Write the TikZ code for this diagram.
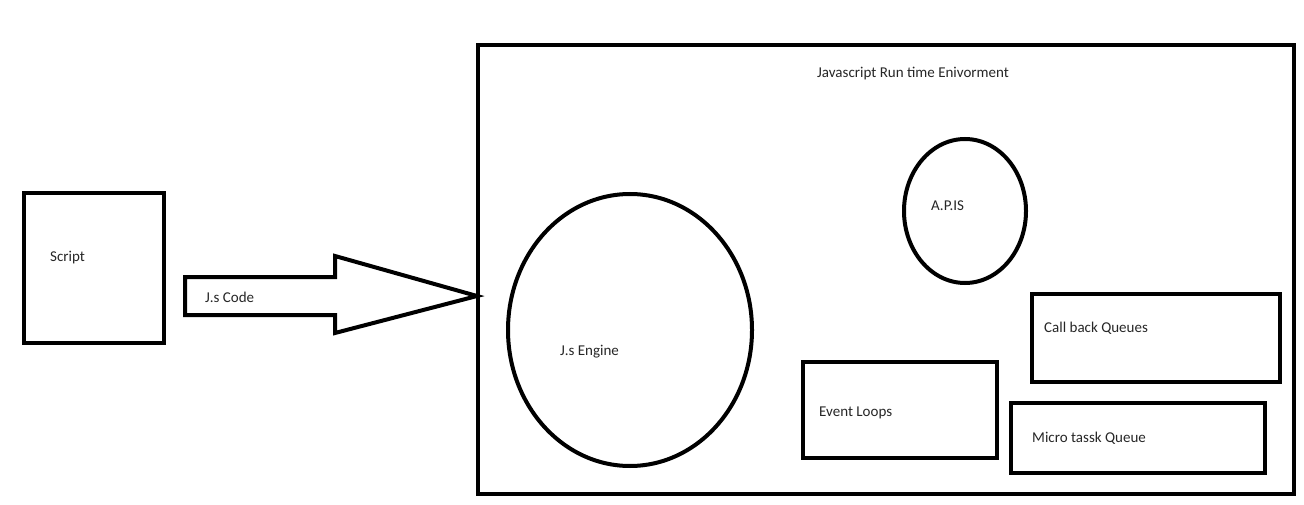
\documentclass[tikz,border=0pt]{standalone}
\usepackage{fontspec}
\setmainfont{Carlito}
\begin{document}
\begin{tikzpicture}[x=1pt,y=-1pt,
  thick box/.style={draw=black,line width=4pt},
  lbl/.style={anchor=west,inner sep=0pt,font=\fontsize{15}{17}\selectfont,text=black!85}]
\useasboundingbox (0,0) rectangle (1304,505);
% Script box
\draw[thick box] (24,193) rectangle (164,343);
\node[lbl] (script) at (50,258) {Script};
% block arrow
\draw[thick box,line join=miter] (185,277) -- (335,277) -- (335,256) -- (477,296) -- (335,333) -- (335,315) -- (185,315) -- cycle;
\node[lbl] (jscode) at (205,297) {J.s Code};
% environment box
\draw[thick box] (478,45) rectangle (1294,494);
\node[lbl] (title) at (817,74) {Javascript Run time Enivorment};
% API ellipse
\draw[thick box] (965,211) ellipse [x radius=61, y radius=72];
\node[lbl] (api) at (931,206) {A.P.IS};
% JS engine ellipse
\draw[thick box] (630,330) ellipse [x radius=122, y radius=136];
\node[lbl] (engine) at (560,352) {J.s Engine};
% Event loops
\draw[thick box] (803,362) rectangle (997,458);
\node[lbl] (event) at (819,413) {Event Loops};
% Callback queues
\draw[thick box] (1032,294) rectangle (1280,382);
\node[lbl] (cb) at (1044,328) {Call back Queues};
% Microtask queue
\draw[thick box] (1011,403) rectangle (1265,473);
\node[lbl] (micro) at (1032,438) {Micro tassk Queue};
\end{tikzpicture}
\end{document}
